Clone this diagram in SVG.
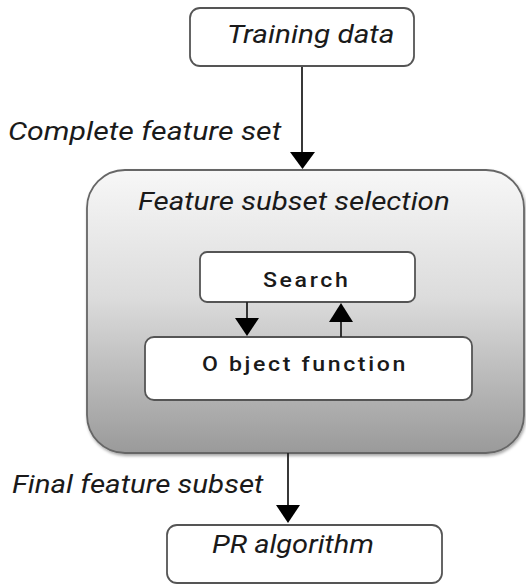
<svg xmlns="http://www.w3.org/2000/svg" width="526" height="585" viewBox="0 0 526 585">
  <defs>
    <linearGradient id="panelFill" x1="0" y1="0" x2="0" y2="1">
      <stop offset="0" stop-color="#f7f7f7"/>
      <stop offset="0.45" stop-color="#dcdcdc"/>
      <stop offset="1" stop-color="#9a9a9a"/>
    </linearGradient>
    <filter id="soft" x="-5%" y="-5%" width="110%" height="115%">
      <feDropShadow dx="1" dy="2" stdDeviation="1.5" flood-color="#000" flood-opacity="0.35"/>
    </filter>
  </defs>
  <style>
    .box { fill: #fff; stroke: #555; stroke-width: 1.8; }
    .lbl { font-family: Roboto, "Liberation Sans", sans-serif; font-style: italic; font-size: 25px; fill: #1a1a1a; }
    .inner { font-family: Roboto, "Liberation Sans", sans-serif; font-weight: 500; font-size: 21px; letter-spacing: 2.4px; fill: #1a1a1a; }
    .conn { stroke: #222; stroke-width: 1.8; fill: none; }
    .head { fill: #000; }
  </style>
  <rect width="526" height="585" fill="#fff"/>

  <g id="training-data">
    <rect class="box" x="190" y="8" width="224" height="58" rx="10"/>
    <text class="lbl" transform="translate(227,43) scale(1.19,1)">Training data</text>
  </g>

  <g id="feature-subset-selection">
    <rect x="87" y="170" width="437" height="283" rx="38" fill="url(#panelFill)" stroke="#666" stroke-width="1.8" filter="url(#soft)"/>
    <text class="lbl" transform="translate(138,210) scale(1.18,1)">Feature subset selection</text>
  </g>

  <g id="search">
    <rect class="box" x="200" y="252" width="215" height="50" rx="7"/>
    <text class="inner" transform="translate(263,287) scale(1.1,1)">Search</text>
  </g>

  <g id="object-function">
    <rect class="box" x="145" y="337" width="327" height="63" rx="9"/>
    <text class="inner" transform="translate(202,371) scale(1.1,1)">O bject function</text>
  </g>

  <g id="pr-algorithm">
    <rect class="box" x="167" y="525" width="275" height="58" rx="10"/>
    <text class="lbl" transform="translate(212,553) scale(1.16,1)">PR algorithm</text>
  </g>

  <g id="connectors">
    <line class="conn" x1="302" y1="67" x2="302" y2="155"/>
    <path class="head" d="M290,152 L315,152 L302.5,169 Z"/>
    <line class="conn" x1="247" y1="302" x2="247" y2="320"/>
    <path class="head" d="M235,318 L259,318 L247,336 Z"/>
    <line class="conn" x1="341" y1="337" x2="341" y2="320"/>
    <path class="head" d="M329,322 L353,322 L341,303 Z"/>
    <line class="conn" x1="288" y1="453" x2="288" y2="508"/>
    <path class="head" d="M276,505 L300,505 L288,523 Z"/>
    <text class="lbl" transform="translate(8,140) scale(1.21,1)">Complete feature set</text>
    <text class="lbl" transform="translate(12,493) scale(1.18,1)">Final feature subset</text>
  </g>
</svg>
